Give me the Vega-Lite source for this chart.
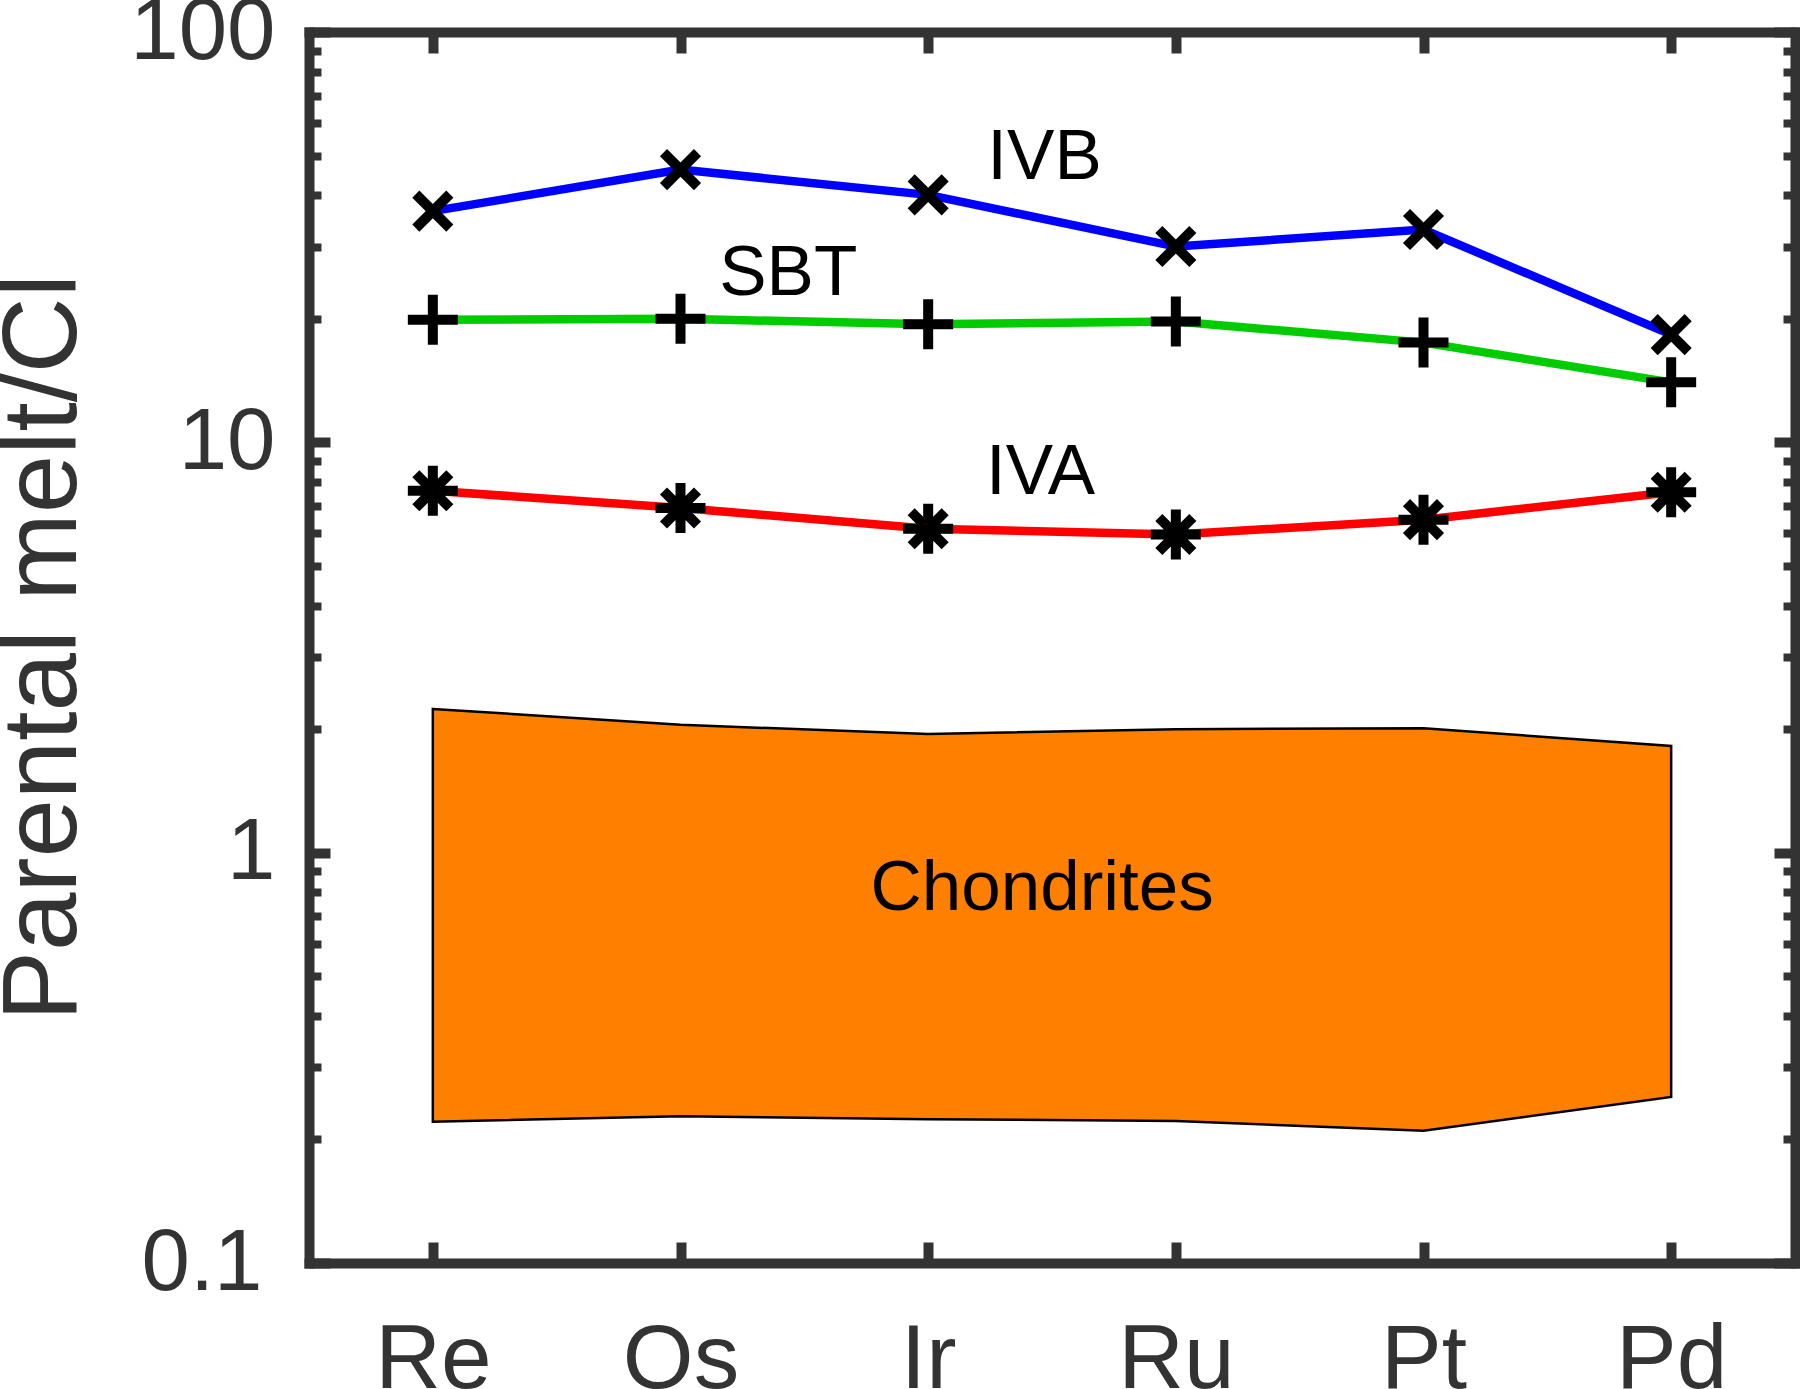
{
  "$schema": "https://vega.github.io/schema/vega-lite/v6.json",
  "width": 1486,
  "height": 1231,
  "autosize": {"type": "none"},
  "padding": {"left": 309, "top": 32, "right": 5, "bottom": 126},
  "background": "white",
  "config": {"view": {"stroke": null}, "font": "Liberation Sans", "axis": {"grid": false}},
  "datasets": {
    "series": [
      {"series": "IVB", "el": "Re", "idx": 1, "v": 36.6},
      {"series": "IVB", "el": "Os", "idx": 2, "v": 46.2},
      {"series": "IVB", "el": "Ir", "idx": 3, "v": 40.1},
      {"series": "IVB", "el": "Ru", "idx": 4, "v": 30.0},
      {"series": "IVB", "el": "Pt", "idx": 5, "v": 33.0},
      {"series": "IVB", "el": "Pd", "idx": 6, "v": 18.3},
      {"series": "SBT", "el": "Re", "idx": 1, "v": 19.9},
      {"series": "SBT", "el": "Os", "idx": 2, "v": 20.0},
      {"series": "SBT", "el": "Ir", "idx": 3, "v": 19.4},
      {"series": "SBT", "el": "Ru", "idx": 4, "v": 19.7},
      {"series": "SBT", "el": "Pt", "idx": 5, "v": 17.5},
      {"series": "SBT", "el": "Pd", "idx": 6, "v": 14.0},
      {"series": "IVA", "el": "Re", "idx": 1, "v": 7.62},
      {"series": "IVA", "el": "Os", "idx": 2, "v": 6.92},
      {"series": "IVA", "el": "Ir", "idx": 3, "v": 6.16},
      {"series": "IVA", "el": "Ru", "idx": 4, "v": 5.96},
      {"series": "IVA", "el": "Pt", "idx": 5, "v": 6.48},
      {"series": "IVA", "el": "Pd", "idx": 6, "v": 7.56}
    ],
    "chondrites": [
      {"el": "Re", "idx": 1, "lo": 0.221, "hi": 2.24},
      {"el": "Os", "idx": 2, "lo": 0.228, "hi": 2.05},
      {"el": "Ir", "idx": 3, "lo": 0.224, "hi": 1.945},
      {"el": "Ru", "idx": 4, "lo": 0.222, "hi": 2.0},
      {"el": "Pt", "idx": 5, "lo": 0.210, "hi": 2.01},
      {"el": "Pd", "idx": 6, "lo": 0.254, "hi": 1.82}
    ],
    "labels": [
      {"label": "IVB", "tx": 3.47, "ty": 49.3},
      {"label": "SBT", "tx": 2.435, "ty": 25.7},
      {"label": "IVA", "tx": 3.454, "ty": 8.44},
      {"label": "Chondrites", "tx": 3.46, "ty": 0.815}
    ]
  },
  "resolve": {"axis": {"x": "independent", "y": "independent"}},
  "layer": [
    {
      "data": {"name": "chondrites"},
      "mark": {"type": "area", "fill": "#FF8000", "stroke": "black", "strokeWidth": 2.5, "fillOpacity": 1},
      "encoding": {
        "x": {
          "field": "idx", "type": "quantitative",
          "scale": {"domain": [0.5, 6.5], "nice": false, "zero": false},
          "axis": {
            "orient": "bottom", "values": [1, 2, 3, 4, 5, 6],
            "labelExpr": "['Re','Os','Ir','Ru','Pt','Pd'][datum.value-1]",
            "title": null, "grid": false,
            "domainColor": "#333333", "domainWidth": 10, "domainCap": "square",
            "tickColor": "#333333", "tickWidth": 10, "tickSize": -21,
            "labelFontSize": 91, "labelColor": "#333333", "labelFont": "Liberation Sans",
            "labelBaseline": "alphabetic", "labelPadding": 145,
            "labelFlush": false, "labelOverlap": false, "labelBound": false
          }
        },
        "y": {
          "field": "hi", "type": "quantitative",
          "scale": {"type": "log", "domain": [0.1, 100], "nice": false},
          "axis": {
            "orient": "left",
            "values": [0.1,0.2,0.3,0.4,0.5,0.6,0.7,0.8,0.9,1,2,3,4,5,6,7,8,9,10,20,30,40,50,60,70,80,90,100],
            "labelExpr": "(datum.value==0.1||datum.value==1||datum.value==10||datum.value==100) ? format(datum.value,'~g') : ''",
            "grid": false,
            "domainColor": "#333333", "domainWidth": 10, "domainCap": "square",
            "tickColor": "#333333",
            "tickWidth": {"condition": {"test": "datum.value==0.1||datum.value==1||datum.value==10||datum.value==100", "value": 10}, "value": 8},
            "tickSize": {"condition": {"test": "datum.value==0.1||datum.value==1||datum.value==10||datum.value==100", "value": -21}, "value": -12},
            "labelFontSize": 87, "labelColor": "#333333", "labelFont": "Liberation Sans",
            "labelPadding": {"condition": {"test": "datum.value==0.1", "value": 68}, "value": 55},
            "labelBaseline": "middle", "labelAlign": "right",
            "labelFlush": false, "labelOverlap": false, "labelBound": false,
            "title": "Parental melt/Cl", "titleFontSize": 105, "titleFont": "Liberation Sans",
            "titleFontWeight": "normal", "titleColor": "#333333", "titleAngle": -90,
            "titleX": -234, "titleY": 615, "titleAlign": "center", "titleBaseline": "alphabetic"
          }
        },
        "y2": {"field": "lo"}
      }
    },
    {
      "data": {"name": "series"},
      "mark": {"type": "line", "strokeWidth": 8.5},
      "encoding": {
        "x": {
          "field": "idx", "type": "quantitative",
          "scale": {"domain": [0.5, 6.5], "nice": false, "zero": false},
          "axis": {
            "orient": "top", "values": [1, 2, 3, 4, 5, 6], "labels": false, "title": null, "grid": false,
            "domainColor": "#333333", "domainWidth": 10, "domainCap": "square",
            "tickColor": "#333333", "tickWidth": 10, "tickSize": -21
          }
        },
        "y": {
          "field": "v", "type": "quantitative",
          "scale": {"type": "log", "domain": [0.1, 100], "nice": false},
          "axis": {
            "orient": "right",
            "values": [0.1,0.2,0.3,0.4,0.5,0.6,0.7,0.8,0.9,1,2,3,4,5,6,7,8,9,10,20,30,40,50,60,70,80,90,100],
            "labels": false, "title": null, "grid": false,
            "domainColor": "#333333", "domainWidth": 10, "domainCap": "square",
            "tickColor": "#333333",
            "tickWidth": {"condition": {"test": "datum.value==0.1||datum.value==1||datum.value==10||datum.value==100", "value": 10}, "value": 8},
            "tickSize": {"condition": {"test": "datum.value==0.1||datum.value==1||datum.value==10||datum.value==100", "value": -21}, "value": -12}
          }
        },
        "color": {
          "field": "series", "type": "nominal",
          "scale": {"domain": ["IVB", "SBT", "IVA"], "range": ["#0000FF", "#00CC00", "#FF0000"]},
          "legend": null
        }
      }
    },
    {
      "data": {"name": "series"},
      "mark": {"type": "point", "filled": false, "stroke": "black", "strokeWidth": 10, "size": 2500, "opacity": 1, "strokeCap": "butt"},
      "encoding": {
        "x": {"field": "idx", "type": "quantitative", "scale": {"domain": [0.5, 6.5], "nice": false, "zero": false}, "axis": null},
        "y": {"field": "v", "type": "quantitative", "scale": {"type": "log", "domain": [0.1, 100], "nice": false}, "axis": null},
        "shape": {
          "field": "series", "type": "nominal",
          "scale": {
            "domain": ["IVB", "SBT", "IVA"],
            "range": [
              "M-0.68,-0.68L0.68,0.68M-0.68,0.68L0.68,-0.68",
              "M-1,0L1,0M0,-1L0,1",
              "M-1,0L1,0M0,-1L0,1M-0.68,-0.68L0.68,0.68M-0.68,0.68L0.68,-0.68"
            ]
          },
          "legend": null
        }
      }
    },
    {
      "data": {"name": "labels"},
      "mark": {"type": "text", "font": "Liberation Sans", "fontSize": 71, "color": "black", "align": "center", "baseline": "middle"},
      "encoding": {
        "x": {"field": "tx", "type": "quantitative", "scale": {"domain": [0.5, 6.5], "nice": false, "zero": false}, "axis": null},
        "y": {"field": "ty", "type": "quantitative", "scale": {"type": "log", "domain": [0.1, 100], "nice": false}, "axis": null},
        "text": {"field": "label"}
      }
    }
  ]
}
